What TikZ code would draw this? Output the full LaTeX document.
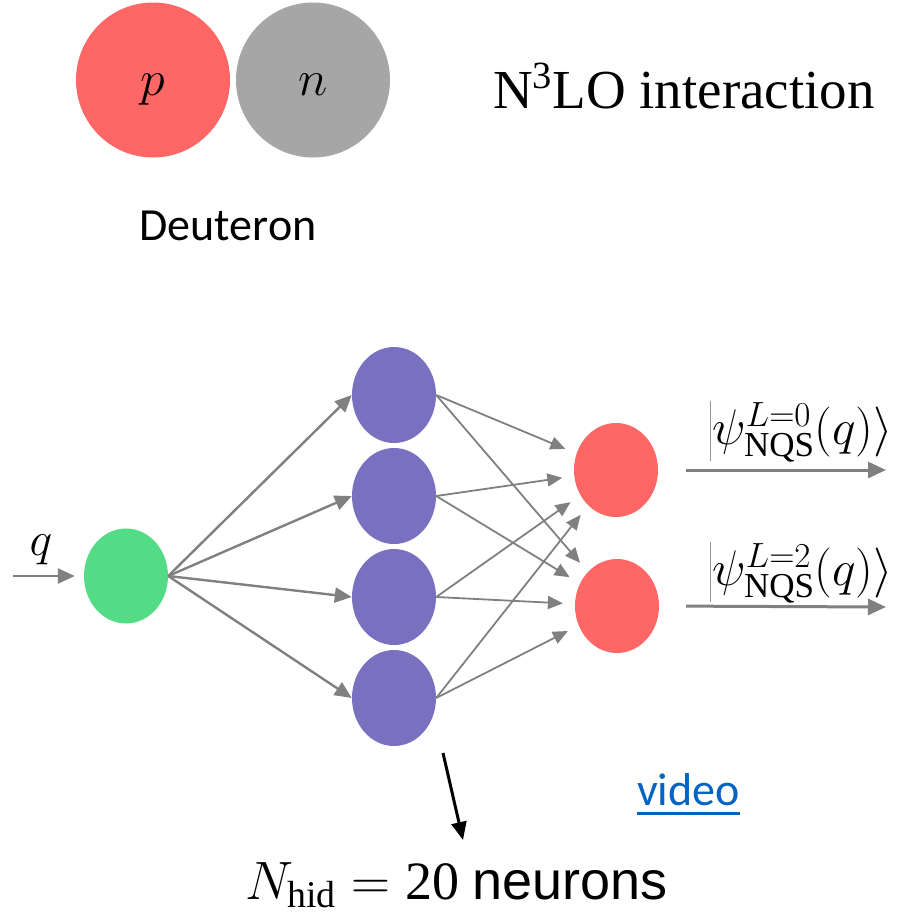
\RequirePackage{fix-cm}
\documentclass[tikz,border=0pt]{standalone}
\usepackage{fontspec}
\setmainfont{Liberation Serif}
\newfontfamily\calfont{Carlito}
\newfontfamily\arialfont{Liberation Sans}
\usetikzlibrary{shapes.geometric,arrows.meta}
\definecolor{pred}{RGB}{255,102,102}
\definecolor{ngray}{RGB}{166,166,166}
\definecolor{ngreen}{RGB}{84,219,134}
\definecolor{npurple}{RGB}{121,112,192}
\definecolor{agray}{RGB}{128,128,128}
\definecolor{linkblue}{RGB}{5,99,193}
\tikzset{
  blob/.style={ellipse, draw=none, inner sep=0pt},
  nucleon/.style={blob, minimum width=154pt, minimum height=155pt},
  inneuron/.style={blob, fill=ngreen, minimum width=84pt, minimum height=95pt},
  hidneuron/.style={blob, fill=npurple, minimum width=84pt, minimum height=96pt},
  outneuron/.style={blob, fill=pred, minimum width=84pt, minimum height=94pt},
  inwire/.style={draw=agray, line width=2.4pt, -{Triangle[length=17pt,width=15pt]}},
  hidwire/.style={draw=agray, line width=1.8pt, -{Triangle[length=15pt,width=13pt]}, shorten >=12pt},
  outwire/.style={draw=agray, line width=3pt, -{Triangle[length=18pt,width=16pt]}},
  blackwire/.style={draw=black, line width=3pt, -{Triangle[length=18pt,width=15pt]}},
  lbl/.style={inner sep=0pt, anchor=base}
}
\begin{document}
\begin{tikzpicture}[x=1pt, y=-1pt]
\useasboundingbox (0,0) rectangle (922,914);

% deuteron
\node[nucleon, fill=pred] (p) at (153,80) {};
\node[nucleon, fill=ngray] (n) at (313,80) {};
\node[lbl] (plab) at (153,95) {\fontsize{50}{60}\selectfont $p$};
\node[lbl] (nlab) at (313,95) {\fontsize{50}{60}\selectfont $n$};
\node[lbl, anchor=base west] (n3lo) at (493,108) {\fontsize{55}{66}\selectfont N\textsuperscript{3}LO interaction};
\node[lbl] (deut) at (228,240) {\calfont\fontsize{46}{56}\selectfont Deuteron};

% network
\node[inneuron] (gin) at (126,576) {};
\node[hidneuron] (h1) at (394,395) {};
\node[hidneuron] (h2) at (394,496) {};
\node[hidneuron] (h3) at (394,597) {};
\node[hidneuron] (h4) at (394,698) {};
\node[outneuron] (o1) at (616,470) {};
\node[outneuron] (o2) at (617,606) {};

\coordinate (qin) at (13,576);
\node[lbl] (qlab) at (41,555) {\fontsize{48}{58}\selectfont $q$};
\draw[inwire, shorten >=9pt] (qin) -- (gin.west);

\foreach \i in {1,2,3,4} {
  \draw[inwire] (gin.east) -- (h\i.west);
}
\foreach \i in {1,2,3,4} {
  \draw[hidwire] (h\i.east) -- (o1);
  \draw[hidwire] (h\i.east) -- (o2);
}

\coordinate (r1) at (886,470);
\coordinate (r2) at (886,607);
\draw[outwire, shorten <=28pt] (o1.east) -- (r1);
\draw[outwire, shorten <=27pt] (o2.east) -- (r2);

\node[inner sep=0pt] (psi1) at (801,432) {\fontsize{50}{60}\selectfont $\left|\psi^{L=0}_{\mathrm{NQS}}(q)\right\rangle$};
\node[inner sep=0pt] (psi2) at (801,573) {\fontsize{50}{60}\selectfont $\left|\psi^{L=2}_{\mathrm{NQS}}(q)\right\rangle$};

% bottom
\coordinate (ba) at (443,753);
\coordinate (bb) at (463,840);
\draw[blackwire] (ba) -- (bb);
\node[lbl, anchor=base west] (nhid) at (245,899) {\fontsize{54}{64}\selectfont $N_{\mathrm{hid}}=\mathrm{20}$ {\arialfont neurons}};
\node[lbl, anchor=base west, text=linkblue] (video) at (637,805) {\calfont\fontsize{46}{56}\selectfont video};
\draw[linkblue, line width=3pt] ([yshift=-8pt]video.base west) -- ([yshift=-8pt]video.base east);
\end{tikzpicture}
\end{document}
